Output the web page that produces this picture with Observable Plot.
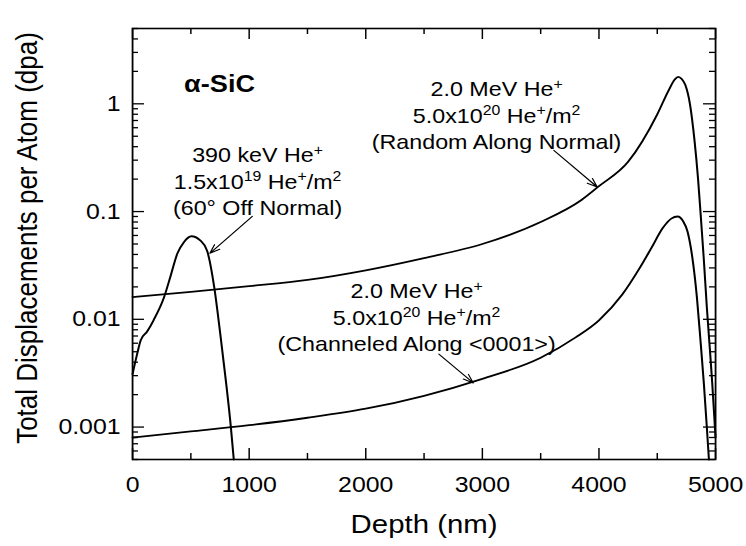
<!DOCTYPE html>
<html><head><meta charset="utf-8">
<script src="https://cdn.jsdelivr.net/npm/d3@7"></script>
<script src="https://cdn.jsdelivr.net/npm/@observablehq/plot@0.6"></script>
<style>body{margin:0;background:#fff}</style>
</head><body><div id="chart"></div>
<script>
// ---- data (depth in nm, displacements per atom) ----
const depthRandom = [0, 500, 1000, 1500, 2000, 2500, 3000, 3500, 3850, 4000, 4250, 4500, 4600, 4650, 4680, 4710, 4740, 4780, 4820, 4850, 4875, 4900, 4925, 4950, 4970, 4990, 5000];
const dpaRandom   = [0.0161, 0.0180, 0.0203, 0.0232, 0.0285, 0.037, 0.050, 0.080, 0.128, 0.172, 0.29, 0.80, 1.35, 1.68, 1.78, 1.70, 1.50, 1.00, 0.45, 0.20, 0.085, 0.035, 0.013, 0.0055, 0.0027, 0.0012, 0.0008];

const depthChanneled = [0, 500, 1000, 1500, 2000, 2500, 3000, 3500, 3800, 4000, 4200, 4350, 4450, 4550, 4620, 4675, 4720, 4760, 4800, 4840, 4870, 4900, 4925, 4943];
const dpaChanneled   = [0.00080, 0.00091, 0.00104, 0.00122, 0.00148, 0.00195, 0.0028, 0.0044, 0.0068, 0.0098, 0.017, 0.030, 0.046, 0.071, 0.086, 0.090, 0.082, 0.065, 0.038, 0.016, 0.0065, 0.0025, 0.0010, 0.0005];

const depthLowE = [0, 40, 70, 125, 180, 270, 325, 385, 440, 505, 580, 640, 700, 755, 800, 843, 868];
const dpaLowE   = [0.0031, 0.0048, 0.0064, 0.0077, 0.0098, 0.016, 0.025, 0.041, 0.052, 0.059, 0.054, 0.043, 0.020, 0.0069, 0.0027, 0.0010, 0.0005];

// ---- ticks ----
const xMajorTicks = [0, 1000, 2000, 3000, 4000, 5000];
const xMinorTicks = [500, 1500, 2500, 3500, 4500];
const yMajorTicks = [0.001, 0.01, 0.1, 1];
const yMinorTicks = [0.0005, 0.0006, 0.0007, 0.0008, 0.0009,
  0.002, 0.003, 0.004, 0.005, 0.006, 0.007, 0.008, 0.009,
  0.02, 0.03, 0.04, 0.05, 0.06, 0.07, 0.08, 0.09,
  0.2, 0.3, 0.4, 0.5, 0.6, 0.7, 0.8, 0.9,
  2, 3, 4, 5];

// ---- texts ----
const xTitle = "Depth (nm)";
const yTitle = "Total Displacements per Atom (dpa)";
const materialLabel = "α-SiC";
const noteTexts = [
  "390 keV He{+}\n1.5x10{19} He{+}/m{2}\n(60° Off Normal)",
  "2.0 MeV He{+}\n5.0x10{20} He{+}/m{2}\n(Random Along Normal)",
  "2.0 MeV He{+}\n5.0x10{20} He{+}/m{2}\n(Channeled Along <0001>)"
];
const noteDepth = [1072, 3122, 2436];
const noteDpa = [0.195, 0.80, 0.0107];
const arrowFromDepth = [1027, 3613, 2627];
const arrowFromDpa = [0.0904, 0.37, 0.00475];
const arrowToDepth = [663, 3985, 2922];
const arrowToDpa = [0.041, 0.169, 0.00257];

// ---- build tables ----
const rows = [
  ...depthRandom.map((d, i) => ({depth: d, dpa: dpaRandom[i], series: "random"})),
  ...depthChanneled.map((d, i) => ({depth: d, dpa: dpaChanneled[i], series: "channeled"})),
  ...depthLowE.map((d, i) => ({depth: d, dpa: dpaLowE[i], series: "390keV"}))
];
const notes = noteTexts.map((t, i) => ({text: t, depth: noteDepth[i], dpa: noteDpa[i]}));
const arrows = arrowFromDepth.map((d, i) => ({x1: d, y1: arrowFromDpa[i], x2: arrowToDepth[i], y2: arrowToDpa[i]}));

// ---- layout (horizontally stretched like the scanned original) ----
const S = 1.13, H = 546, W = 746 / S;
const mL = 132 / S, mR = 31 / S, mT = 28, mB = 87;
const innerW = W - mL - mR, innerH = H - mT - mB;
const font = "'Liberation Sans', Arial, Helvetica, sans-serif";
const K = "#000";
const xMajLen = 11, xMinLen = 6, yMajLen = 12 / S, yMinLen = 6 / S;

const svg = Plot.plot({
  width: W, height: H,
  marginLeft: mL, marginRight: mR, marginTop: mT, marginBottom: mB,
  style: {fontFamily: font, fontSize: "22px", background: "#fff", overflow: "visible"},
  x: {domain: [0, 5000]},
  y: {type: "log", domain: [0.0005, 5]},
  marks: [
    Plot.line(rows, {x: "depth", y: "dpa", z: "series", curve: "monotone-x", stroke: K, strokeWidth: 1.8}),
    Plot.frame({stroke: K, strokeWidth: 1.6}),
    // inward ticks on all four sides
    Plot.ruleX(xMajorTicks, {x: d => d, insetTop: innerH - xMajLen, stroke: K, strokeWidth: 1.3}),
    Plot.ruleX(xMinorTicks, {x: d => d, insetTop: innerH - xMinLen, stroke: K, strokeWidth: 1.3}),
    Plot.ruleX(xMajorTicks, {x: d => d, insetBottom: innerH - xMajLen, stroke: K, strokeWidth: 1.3}),
    Plot.ruleX(xMinorTicks, {x: d => d, insetBottom: innerH - xMinLen, stroke: K, strokeWidth: 1.3}),
    Plot.ruleY(yMajorTicks, {y: d => d, insetRight: innerW - yMajLen, stroke: K, strokeWidth: 1.3}),
    Plot.ruleY(yMinorTicks, {y: d => d, insetRight: innerW - yMinLen, stroke: K, strokeWidth: 1.3}),
    Plot.ruleY(yMajorTicks, {y: d => d, insetLeft: innerW - yMajLen, stroke: K, strokeWidth: 1.3}),
    Plot.ruleY(yMinorTicks, {y: d => d, insetLeft: innerW - yMinLen, stroke: K, strokeWidth: 1.3}),
    Plot.axisX({ticks: xMajorTicks, tickSize: 0, tickPadding: 17, label: null, fill: K, tickFormat: d => String(d)}),
    Plot.axisY({ticks: yMajorTicks, tickSize: 0, tickPadding: 10.6, label: null, fill: K, tickFormat: d => String(d)}),
    Plot.text([xTitle], {frameAnchor: "bottom", dy: 65, fontSize: 26, lineAnchor: "middle", textAnchor: "middle", fill: K}),
    Plot.text([yTitle], {frameAnchor: "left", rotate: -90, dx: 24 - mL, dy: -6, fontSize: 26, lineAnchor: "middle", textAnchor: "middle", fill: K}),
    Plot.text([materialLabel], {x: () => 746, y: () => 1.51, fontSize: 24, fontWeight: "bold", fill: K}),
    Plot.text(notes, {x: "depth", y: "dpa", text: "text", fontSize: 20.6, lineHeight: 1.29, lineAnchor: "middle", fill: K}),
    Plot.arrow(arrows, {x1: "x1", y1: "y1", x2: "x2", y2: "y2", stroke: K, strokeWidth: 1.1, headLength: 13, headAngle: 40})
  ]
});

// superscripts: text inside {...}
svg.querySelectorAll("text").forEach(t => {
  const walker = document.createTreeWalker(t, NodeFilter.SHOW_TEXT);
  const nodes = [];
  while (walker.nextNode()) nodes.push(walker.currentNode);
  nodes.forEach(n => {
    if (!n.data.includes("{")) return;
    const frag = document.createDocumentFragment();
    n.data.split(/(\{[^}]*\})/).forEach(p => {
      if (!p) return;
      if (p.startsWith("{")) {
        const ts = document.createElementNS("http://www.w3.org/2000/svg", "tspan");
        ts.setAttribute("baseline-shift", "super");
        ts.setAttribute("font-size", "0.68em");
        ts.textContent = p.slice(1, -1);
        frag.appendChild(ts);
      } else frag.appendChild(document.createTextNode(p));
    });
    n.replaceWith(frag);
  });
});

// stretch horizontally to the 746 px page width
svg.setAttribute("viewBox", `0 0 ${W} ${H}`);
svg.setAttribute("width", 746);
svg.setAttribute("height", H);
svg.setAttribute("preserveAspectRatio", "none");
svg.style.width = "746px";
svg.style.height = H + "px";
svg.style.maxWidth = "none";
document.getElementById("chart").appendChild(svg);
</script>
</body></html>
